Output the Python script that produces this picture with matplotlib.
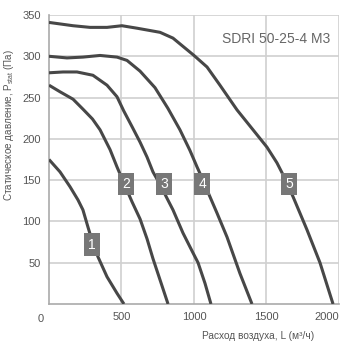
import matplotlib
matplotlib.use('Agg')
import matplotlib.pyplot as plt
from matplotlib import font_manager

# Curve data (airflow m3/h, static pressure Pa)
curve1_x = [0, 76, 145, 200, 234, 269, 300, 338, 400, 469, 517]
curve1_y = [175, 160, 142, 126, 114, 93, 75, 57, 33, 13, 0]

curve2_x = [0, 76, 166, 234, 300, 352, 421, 469, 520, 572, 628, 676, 717, 770, 821]
curve2_y = [265, 257, 248, 236, 224, 211, 187, 166, 145, 124, 103, 79, 55, 27, 0]

curve3_x = [0, 97, 193, 303, 400, 469, 515, 575, 628, 676, 717, 765, 814, 855, 924, 993, 1028, 1076, 1117]
curve3_y = [280, 281, 281, 277, 265, 251, 234, 214, 196, 178, 160, 145, 128, 114, 86, 62, 50, 25, 0]

curve4_x = [0, 124, 234, 352, 469, 538, 628, 731, 820, 903, 972, 1021, 1062, 1100, 1159, 1228, 1317, 1400]
curve4_y = [300, 298, 299, 301, 299, 295, 282, 262, 237, 211, 186, 166, 150, 134, 110, 81, 37, 0]

curve5_x = [0, 166, 283, 400, 503, 607, 766, 855, 1000, 1090, 1179, 1297, 1407, 1503, 1572, 1607, 1683, 1779, 1869, 1959]
curve5_y = [341, 337, 335, 335, 337, 334, 329, 322, 301, 287, 265, 235, 211, 190, 171, 159, 130, 90, 50, 0]

curves = [(curve1_x, curve1_y), (curve2_x, curve2_y), (curve3_x, curve3_y),
          (curve4_x, curve4_y), (curve5_x, curve5_y)]

label_names = ['1', '2', '3', '4', '5']
label_x = [297, 531, 793, 1058, 1655]
label_y = [72, 145, 145, 145, 145]

x_ticks = [500, 1000, 1500, 2000]
y_ticks = [50, 100, 150, 200, 250, 300, 350]
model_name = 'SDRI 50-25-4 M3'

installed = {f.name for f in font_manager.fontManager.ttflist}
narrow = 'Liberation Sans Narrow' if 'Liberation Sans Narrow' in installed else 'Liberation Sans'
plt.rcParams['font.family'] = ['Liberation Sans', 'DejaVu Sans']

fig = plt.figure(figsize=(3.49, 3.43), dpi=100)
ax = fig.add_axes([0.1404, 0.1137, 0.8309, 0.8426])

for cx, cy in curves:
    ax.plot(cx, cy, color='#474747', lw=2.2, solid_capstyle='butt', solid_joinstyle='round', zorder=3)

for name, lx, ly in zip(label_names, label_x, label_y):
    ax.text(lx, ly, name, color='white', fontsize=10, ha='center', va='center', zorder=5,
            bbox=dict(boxstyle='square,pad=0.3', fc='#777777', ec='none'))

ax.text(1569, 321, model_name, family=narrow, fontsize=10, color='#666666', ha='center', va='center')

ax.set_xlim(0, 2000)
ax.set_ylim(0, 350)
ax.set_xticks(x_ticks)
ax.set_yticks(y_ticks)
ax.grid(True, color='#d0d0d0', lw=1.2)
ax.set_axisbelow(True)
ax.tick_params(length=0, labelsize=8, colors='#555555', pad=6)
ax.get_xticklabels()[-1].set_ha('right')
for s in ['top', 'right']:
    ax.spines[s].set_visible(False)
ax.spines['left'].set_color('#aaaaaa')
ax.spines['bottom'].set_color('#aaaaaa')
ax.spines['left'].set_linewidth(1.2)
ax.spines['bottom'].set_linewidth(1.2)

# origin label sits below-left of the corner
ax.text(-0.028, -0.035, '0', transform=ax.transAxes, fontsize=8, color='#555555', ha='center', va='top')

ax.set_xlabel('Расход воздуха, L (м³/ч)', fontsize=7.3, color='#555555')
ax.xaxis.set_label_coords(0.72, -0.095)
ax.set_ylabel('Статическое давление, P$_{\\mathregular{stat}}$ (Па)', fontsize=7.1, color='#555555')
ax.yaxis.set_label_coords(-0.115, 0.62)

plt.savefig('out.png', dpi=100)
plt.close()
